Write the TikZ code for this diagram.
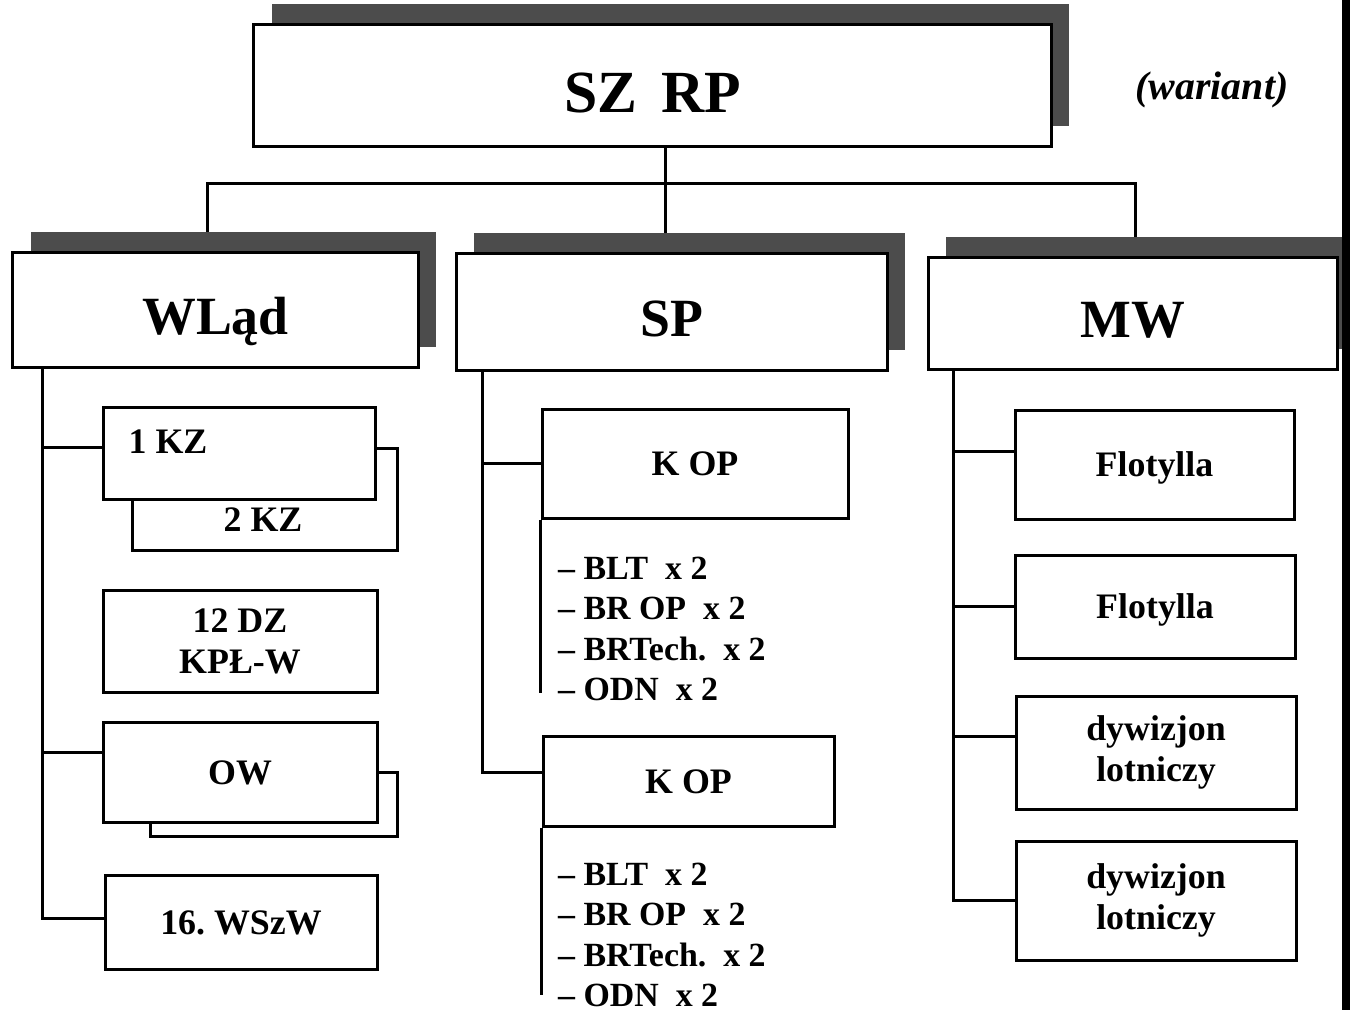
\documentclass[tikz,border=0pt]{standalone}
\usepackage{fontspec}
\setmainfont{Liberation Serif}
\usetikzlibrary{positioning, shadows, backgrounds, calc}

\begin{document}
\begin{tikzpicture}[x=1bp, y=-1bp,
    box/.style={draw, line width=3bp, fill=white, inner sep=0pt},
    head/.style={box, font=\fontsize{54}{60}\selectfont\bfseries, text height=54bp, text depth=5bp,
      drop shadow={shadow xshift=18bp, shadow yshift=20bp, fill=black!70, opacity=1}},
    unit/.style={box, font=\fontsize{36}{41}\selectfont\bfseries},
    one/.style={unit, text height=24.5bp, text depth=0pt},
    two/.style={unit, align=center},
    lbl/.style={font=\fontsize{36}{41}\selectfont\bfseries, inner sep=0pt},
    items/.style={font=\fontsize{34}{40.5}\selectfont\bfseries, align=left, inner sep=0pt, anchor=north west},
    link/.style={line width=3bp}]
    \useasboundingbox (0,0) rectangle (1350,1010);

    % Top level
    \node[head, font=\fontsize{60}{66}\selectfont\bfseries, text height=60bp, text depth=6bp, minimum width=797bp, minimum height=122bp] (top) at (652.5,85) {SZ\hspace{0.4em}RP};
    \node[font=\fontsize{40}{48}\selectfont\bfseries\itshape] (variant) at (1212,90) {(wariant)};

    % Second level
    \node[head, minimum width=405bp, minimum height=115bp] (wlad) at (215.5,309.5) {WLąd};
    \node[head, minimum width=431bp, minimum height=117bp] (sp) at (671.5,311.5) {SP};
    \node[head, minimum width=409bp, minimum height=112bp] (mw) at (1132.5,313) {MW};

    % WLąd column
    \node[box, minimum width=265bp, minimum height=102bp] (kz2) at (264.5,499) {};
    \node[box, minimum width=272bp, minimum height=92bp] (kz1) at (239,453) {};
    \node[lbl] (kz1-txt) at (168,442) {1 KZ};
    \node[lbl] (kz2-txt) at (263,520) {2 KZ};
    \node[two, minimum width=274bp, minimum height=102bp] (dz) at (240,641) {12 DZ\\KPŁ-W};
    \node[box, minimum width=247bp, minimum height=64bp] (ow2) at (273.5,804) {};
    \node[one, minimum width=274bp, minimum height=100bp] (ow) at (240,772) {OW};
    \node[one, minimum width=272bp, minimum height=94bp] (wsw) at (241,922) {16.\ WSzW};

    % SP column
    \node[one, minimum width=306bp, minimum height=109bp] (kop1) at (695,463.5) {K OP};
    \node[items] (list1) at (558,557) {– BLT~~x 2\\– BR OP~~x 2\\– BRTech.~~x 2\\– ODN~~x 2};
    \node[one, minimum width=291bp, minimum height=90bp] (kop2) at (688.5,781) {K OP};
    \node[items] (list2) at (558,863) {– BLT~~x 2\\– BR OP~~x 2\\– BRTech.~~x 2\\– ODN~~x 2};

    % MW column
    \node[one, minimum width=279bp, minimum height=109bp] (flot1) at (1154.5,464.5) {Flotylla};
    \node[one, minimum width=280bp, minimum height=103bp] (flot2) at (1155,606.5) {Flotylla};
    \node[two, minimum width=280bp, minimum height=113bp] (dyw1) at (1156,752.5) {dywizjon\\lotniczy};
    \node[two, minimum width=280bp, minimum height=119bp] (dyw2) at (1156,900.5) {dywizjon\\lotniczy};

    \coordinate (bus) at (665,183);
    \coordinate (wl-end) at (42,918);
    \coordinate (sp-end) at (482,772);
    \coordinate (mw-end) at (953,900);

    % Connectors
    \begin{scope}[on background layer]
        \draw[link] (top.south -| bus) -- (sp.north -| bus);
        \draw[link] ([xshift=-8bp]wlad.north) |- (bus) -| ([xshift=3bp]mw.north);

        \draw[link] (wlad.south -| wl-end) |- ([yshift=4bp]wsw.west);
        \draw[link] ([yshift=6bp]kz1.west) -- ([yshift=6bp]kz1.west -| wl-end);
        \draw[link] ([yshift=20bp]ow.west) -- ([yshift=20bp]ow.west -| wl-end);

        \draw[link] (sp.south -| sp-end) |- ([yshift=9bp]kop2.west);
        \draw[link] (kop1.west) -- (kop1.west -| sp-end);
        \draw[link, shorten >=8bp] (kop1.south west) -- (kop1.south west |- list1.south);
        \draw[link, shorten >=12bp] (kop2.south west) -- (kop2.south west |- list2.south);

        \draw[link] (mw.south -| mw-end) |- (dyw2.west);
        \draw[link] ([yshift=13bp]flot1.west) -- ([yshift=13bp]flot1.west -| mw-end);
        \draw[link] (flot2.west) -- (flot2.west -| mw-end);
        \draw[link] ([yshift=16bp]dyw1.west) -- ([yshift=16bp]dyw1.west -| mw-end);
    \end{scope}

    % scan edge
    \fill (1342,0) rectangle (1350,1010);
\end{tikzpicture}
\end{document}
